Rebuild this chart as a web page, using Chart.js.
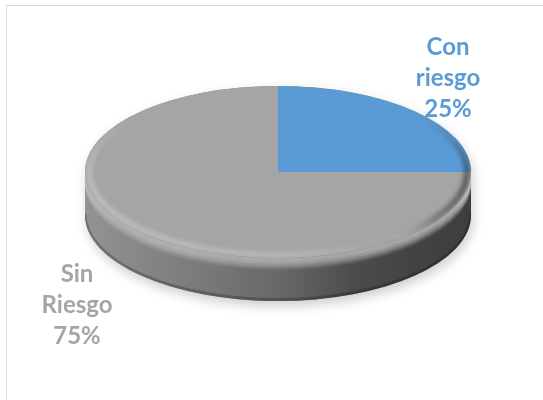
<!DOCTYPE html>
<html>
<head>
<meta charset="utf-8">
<script src="https://cdn.jsdelivr.net/npm/chart.js@4.4.1/dist/chart.umd.min.js"></script>
<style>
  html, body { margin: 0; padding: 0; background: #ffffff; overflow: hidden; }
  #wrap { position: relative; width: 543px; height: 400px; overflow: hidden; }
  #frame { position: absolute; left: 6px; top: 5px; width: 600px; height: 500px; border: 1px solid #d9d9d9; box-sizing: border-box; }
  canvas { position: absolute; left: 0; top: 0; }
</style>
</head>
<body>
<div id="wrap">
  <div id="frame"></div>
  <canvas id="c" width="543" height="400"></canvas>
</div>
<script>
// ---- data ----
const categories = ['Con riesgo', 'Sin Riesgo'];
const values = [25, 75];
const sliceColors = ['#5B9BD5', '#A5A5A5'];
const labelColors = ['#5B9BD5', '#A5A5A5'];

// ---- style constants ----
const SQUASH = 0.446;      // vertical scale of the tilted top face
const FACE_CY = 172;       // screen y of the top face centre
const DEPTH = 43;          // thickness of the 3D side
const EDGE = 14;           // rounded-edge band height at top of side
const LABEL_POS = [{x: 448, y: 55}, {x: 77, y: 282}];
const LINE_H = 31;

function smooth(t) { t = Math.max(0, Math.min(1, t)); return t * t * (3 - 2 * t); }

const pie3d = {
  id: 'pie3d',
  beforeDatasetsDraw(chart) {
    const meta = chart.getDatasetMeta(0);
    const a0 = meta.data[0];
    const cx = a0.x, cy = a0.y, r = a0.outerRadius;
    const ry = r * SQUASH;
    const ctx = chart.ctx;

    ctx.save();
    // soft shadow under the disc
    ctx.save();
    ctx.beginPath();
    ctx.ellipse(cx, FACE_CY + DEPTH, r, ry, 0, 0, Math.PI);
    ctx.lineTo(cx - r, FACE_CY);
    ctx.ellipse(cx, FACE_CY, r, ry, 0, Math.PI, 2 * Math.PI);
    ctx.closePath();
    ctx.shadowColor = 'rgba(0,0,0,0.2)';
    ctx.shadowBlur = 12;
    ctx.shadowOffsetY = 5;
    ctx.shadowOffsetX = 2;
    ctx.fillStyle = '#888';
    ctx.fill();
    ctx.restore();

    // side walls for the visible (front) part of each slice
    const grad = ctx.createLinearGradient(cx - r, 0, cx + r, 0);
    grad.addColorStop(0, '#939393');
    grad.addColorStop(0.25, '#7e7e7e');
    grad.addColorStop(0.5, '#686868');
    grad.addColorStop(0.7, '#4c4c4c');
    grad.addColorStop(0.85, '#434343');
    grad.addColorStop(1, '#3e3e3e');
    meta.data.forEach((arc) => {
      const s = arc.startAngle, e = arc.endAngle;
      [[s, e], [s - 2 * Math.PI, e - 2 * Math.PI]].forEach(([ss, ee]) => {
        const a = Math.max(ss, 0), b = Math.min(ee, Math.PI);
        if (b <= a) return;
        ctx.beginPath();
        ctx.ellipse(cx, FACE_CY, r, ry, 0, a, b);
        ctx.ellipse(cx, FACE_CY + DEPTH, r, ry, 0, b, a, true);
        ctx.closePath();
        ctx.fillStyle = grad;
        ctx.fill();
        ctx.save();
        ctx.clip();
        // rounded edge: light band fading into the side colour
        for (let i = 0; i < EDGE; i += 0.5) {
          const t = i / EDGE;
          ctx.beginPath();
          ctx.ellipse(cx, FACE_CY + i, r, ry, 0, a, b);
          ctx.lineWidth = 1.2;
          ctx.strokeStyle = 'rgba(185,185,185,' + (0.55 * (1 - smooth(t))).toFixed(3) + ')';
          ctx.stroke();
        }
        // darker rim at the bottom edge
        ctx.beginPath();
        ctx.ellipse(cx, FACE_CY + DEPTH - 1.5, r, ry, 0, a, b);
        ctx.lineWidth = 3;
        ctx.strokeStyle = 'rgba(0,0,0,0.22)';
        ctx.stroke();
        ctx.restore();
      });
    });
    ctx.restore();

    // transform for the tilted top face
    ctx.save();
    ctx.translate(cx, FACE_CY);
    ctx.scale(1, SQUASH);
    ctx.translate(-cx, -cy);
  },
  afterDatasetsDraw(chart) {
    const ctx = chart.ctx;
    ctx.restore(); // undo tilt transform
    const meta = chart.getDatasetMeta(0);
    const a0 = meta.data[0];
    const cx = a0.x, r = a0.outerRadius;
    const ry = r * SQUASH;
    const W = chart.width, H = chart.height;
    // subtle rim shading on the face, faded out toward the back
    const off = document.createElement('canvas');
    off.width = W; off.height = H;
    const o = off.getContext('2d');
    o.filter = 'blur(2px)';
    const hg = o.createLinearGradient(cx - r, 0, cx + r, 0);
    hg.addColorStop(0, 'rgba(255,255,255,0.28)');
    hg.addColorStop(0.55, 'rgba(255,255,255,0.18)');
    hg.addColorStop(0.78, 'rgba(255,255,255,0)');
    hg.addColorStop(0.9, 'rgba(30,30,30,0.3)');
    hg.addColorStop(1, 'rgba(30,30,30,0.6)');
    o.beginPath();
    o.ellipse(cx, FACE_CY, r - 4, ry - 3, 0, 0, 2 * Math.PI);
    o.lineWidth = 6;
    o.strokeStyle = hg;
    o.stroke();
    o.filter = 'none';
    o.globalCompositeOperation = 'destination-in';
    const vg = o.createLinearGradient(0, FACE_CY - ry * 0.7, 0, FACE_CY + ry * 0.1);
    vg.addColorStop(0, 'rgba(0,0,0,0)');
    vg.addColorStop(1, 'rgba(0,0,0,1)');
    o.fillStyle = vg;
    o.fillRect(0, 0, W, H);
    ctx.save();
    ctx.beginPath();
    ctx.ellipse(cx, FACE_CY, r, ry, 0, 0, 2 * Math.PI);
    ctx.clip();
    ctx.drawImage(off, 0, 0);
    ctx.restore();
  },
  afterDraw(chart) {
    const ctx = chart.ctx;
    const total = values.reduce((a, b) => a + b, 0);
    ctx.save();
    ctx.font = 'bold 24px Lato, "Open Sans", sans-serif';
    ctx.textAlign = 'center';
    ctx.textBaseline = 'alphabetic';
    categories.forEach((cat, i) => {
      const pct = Math.round(values[i] / total * 100) + '%';
      const lines = cat.split(' ').concat([pct]);
      ctx.fillStyle = labelColors[i];
      lines.forEach((ln, j) => {
        ctx.fillText(ln, LABEL_POS[i].x, LABEL_POS[i].y + j * LINE_H);
      });
    });
    ctx.restore();
  }
};

new Chart(document.getElementById('c'), {
  type: 'pie',
  data: {
    labels: categories,
    datasets: [{
      data: values,
      backgroundColor: sliceColors,
      borderWidth: 0
    }]
  },
  options: {
    responsive: false,
    animation: false,
    devicePixelRatio: 1,
    layout: { padding: { left: 85, right: 72, top: 7, bottom: 7 } },
    plugins: { legend: { display: false }, tooltip: { enabled: false } }
  },
  plugins: [pie3d]
});
</script>
</body>
</html>
